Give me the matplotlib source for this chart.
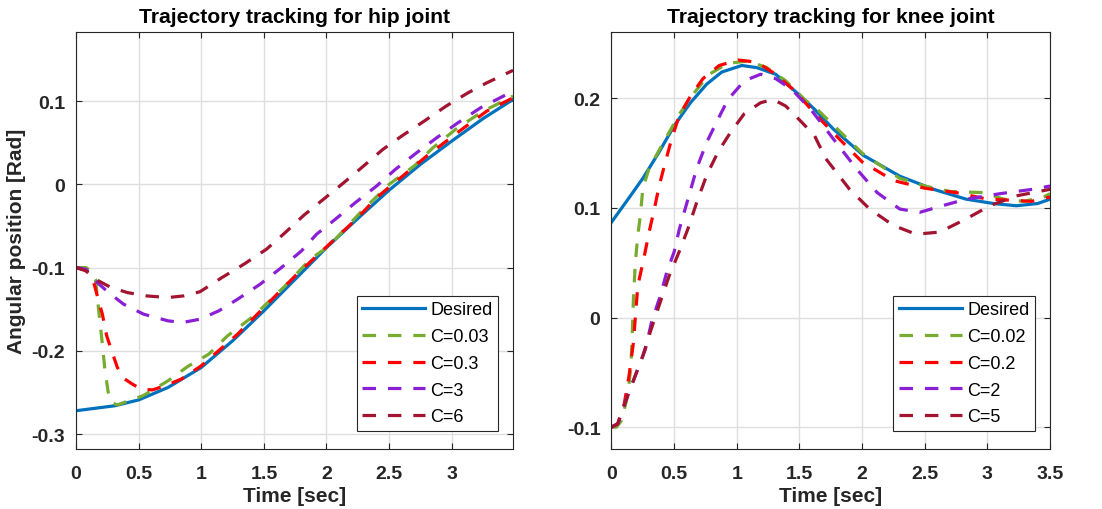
import numpy as np
import matplotlib
matplotlib.use('Agg')
import matplotlib.pyplot as plt

# ---- hip joint ----
hip_t_des = [0, 0.31, 0.5, 0.735, 1.0, 1.25, 1.5, 1.75, 2.0, 2.25, 2.5, 2.75,
             3.0, 3.25, 3.49]
hip_des = [-0.272, -0.266, -0.259, -0.244, -0.220, -0.188, -0.152, -0.114,
           -0.076, -0.041, -0.007, 0.024, 0.052, 0.079, 0.102]

hip_t_c1 = [0, 0.08, 0.12, 0.156, 0.18, 0.206, 0.23, 0.257, 0.28, 0.33, 0.534,
            0.735, 0.89, 1.06, 1.21, 1.42, 1.67, 1.87, 2.02, 2.27, 2.5, 2.7,
            2.85, 3.03, 3.19, 3.28, 3.49]
hip_c1 = [-0.1, -0.1, -0.104, -0.114, -0.15, -0.186, -0.222, -0.25, -0.262,
          -0.265, -0.254, -0.236, -0.219, -0.204, -0.182, -0.158, -0.122,
          -0.09, -0.074, -0.034, 0.0, 0.022, 0.044, 0.066, 0.082, 0.09, 0.106]

hip_t_c2 = [0, 0.08, 0.145, 0.17, 0.21, 0.245, 0.28, 0.33, 0.39, 0.45, 0.52,
            0.61, 0.71, 0.84, 1.0, 1.29, 1.75, 2.25, 2.4, 2.8, 3.08, 3.28, 3.49]
hip_c2 = [-0.1, -0.103, -0.12, -0.134, -0.156, -0.182, -0.198, -0.22, -0.234,
          -0.24, -0.246, -0.247, -0.242, -0.234, -0.218, -0.18, -0.11,
          -0.04, -0.016, 0.034, 0.066, 0.088, 0.104]

hip_t_c3 = [0, 0.08, 0.17, 0.26, 0.38, 0.54, 0.735, 0.85, 0.99, 1.14, 1.29,
            1.47, 1.64, 1.8, 1.92, 2.07, 2.23, 2.4, 2.55, 2.72, 2.88, 3.05,
            3.23, 3.49]
hip_c3 = [-0.1, -0.102, -0.118, -0.13, -0.144, -0.156, -0.164, -0.166, -0.162,
          -0.152, -0.138, -0.12, -0.1, -0.08, -0.06, -0.042, -0.022, -0.002,
          0.018, 0.038, 0.056, 0.074, 0.092, 0.112]

hip_t_c4 = [0, 0.08, 0.18, 0.28, 0.41, 0.56, 0.735, 0.86, 0.99, 1.165, 1.34,
            1.52, 1.67, 1.82, 1.975, 2.13, 2.28, 2.45, 2.6, 2.78, 2.955, 3.13,
            3.28, 3.49]
hip_c4 = [-0.1, -0.104, -0.116, -0.124, -0.13, -0.134, -0.136, -0.134, -0.129,
          -0.112, -0.096, -0.078, -0.058, -0.037, -0.018, 0.001, 0.02, 0.042,
          0.058, 0.076, 0.094, 0.11, 0.122, 0.137]

hip_labels = ['Desired', 'C=0.03', 'C=0.3', 'C=3', 'C=6']

# ---- knee joint ----
knee_t_des = [0, 0.126, 0.25, 0.38, 0.5, 0.63, 0.76, 0.88, 1.04, 1.16, 1.31,
              1.5, 1.62, 1.77, 2.01, 2.3, 2.57, 2.83, 3.05, 3.23, 3.4, 3.5]
knee_des = [0.087, 0.107, 0.127, 0.151, 0.175, 0.196, 0.213, 0.224, 0.23,
            0.228, 0.222, 0.203, 0.19, 0.172, 0.148, 0.129, 0.117, 0.108,
            0.104, 0.102, 0.104, 0.108]

knee_t_c1 = [0, 0.04, 0.08, 0.13, 0.155, 0.165, 0.175, 0.19, 0.21, 0.23, 0.25,
             0.3, 0.43, 0.55, 0.66, 0.78, 0.93, 1.09, 1.24, 1.39, 1.54, 1.65,
             2.0, 2.3, 2.5, 2.7, 2.97, 3.13, 3.29, 3.45, 3.5]
knee_c1 = [-0.1, -0.1, -0.094, -0.071, -0.044, -0.017, 0.017, 0.05, 0.075,
           0.093, 0.118, 0.136, 0.163, 0.187, 0.205, 0.222, 0.232, 0.234,
           0.228, 0.216, 0.199, 0.189, 0.15, 0.127, 0.12, 0.115, 0.114, 0.108,
           0.106, 0.11, 0.113]

knee_t_c2 = [0, 0.05, 0.1, 0.14, 0.175, 0.19, 0.21, 0.26, 0.3, 0.34, 0.38,
             0.43, 0.48, 0.54, 0.63, 0.73, 0.86, 1.01, 1.16, 1.31, 1.46, 1.64,
             1.8, 2.0, 2.25, 2.5, 2.75, 3.0, 3.2, 3.35, 3.5]
knee_c2 = [-0.1, -0.097, -0.08, -0.053, -0.023, 0.0, 0.029, 0.055, 0.078,
           0.098, 0.12, 0.142, 0.163, 0.184, 0.202, 0.218, 0.23, 0.235, 0.233,
           0.222, 0.207, 0.184, 0.165, 0.142, 0.125, 0.118, 0.114, 0.108,
           0.107, 0.106, 0.11]

knee_t_c3 = [0, 0.05, 0.11, 0.2, 0.27, 0.32, 0.39, 0.44, 0.5, 0.54, 0.61, 0.68,
             0.76, 0.85, 0.93, 1.06, 1.19, 1.31, 1.44, 1.59, 1.77, 1.96, 2.12,
             2.3, 2.46, 2.64, 2.83, 3.1, 3.36, 3.5]
knee_c3 = [-0.1, -0.097, -0.077, -0.05, -0.029, -0.004, 0.02, 0.041, 0.06,
           0.08, 0.108, 0.136, 0.16, 0.181, 0.199, 0.216, 0.222, 0.218, 0.208,
           0.19, 0.163, 0.135, 0.114, 0.099, 0.096, 0.102, 0.108, 0.113,
           0.117, 0.12]

knee_t_c4 = [0, 0.05, 0.13, 0.25, 0.31, 0.38, 0.46, 0.54, 0.61, 0.68, 0.76,
             0.85, 0.95, 1.06, 1.19, 1.29, 1.39, 1.52, 1.62, 1.71, 1.9, 2.06,
             2.25, 2.43, 2.62, 2.83, 3.02, 3.23, 3.5]
knee_c4 = [-0.1, -0.097, -0.071, -0.035, -0.013, 0.011, 0.038, 0.06, 0.081,
           0.105, 0.13, 0.151, 0.169, 0.186, 0.196, 0.199, 0.193, 0.178,
           0.166, 0.145, 0.117, 0.099, 0.084, 0.076, 0.078, 0.09, 0.102,
           0.111, 0.117]

knee_labels = ['Desired', 'C=0.02', 'C=0.2', 'C=2', 'C=5']

hip_xticks = [0, 0.5, 1, 1.5, 2, 2.5, 3]
hip_xticklabels = ['0', '0.5', '1', '1.5', '2', '2.5', '3']
hip_yticks = [-0.3, -0.2, -0.1, 0, 0.1]
hip_yticklabels = ['-0.3', '-0.2', '-0.1', '0', '0.1']
knee_xticks = [0, 0.5, 1, 1.5, 2, 2.5, 3, 3.5]
knee_xticklabels = ['0', '0.5', '1', '1.5', '2', '2.5', '3', '3.5']
knee_yticks = [-0.1, 0, 0.1, 0.2]
knee_yticklabels = ['-0.1', '0', '0.1', '0.2']

COLORS = ['#0072BD', '#77AC30', '#FF0000', '#8A1FD6', '#A2142F']
INK = '#262626'

plt.rcParams['font.family'] = ['Liberation Sans', 'DejaVu Sans']
plt.rcParams['lines.scale_dashes'] = False


def draw_panel(ax, series, labels, title, xlim, ylim, xt, xtl, yt, ytl):
    for i, (t, v) in enumerate(series):
        if i == 0:
            ax.plot(t, v, color=COLORS[i], lw=2.3, label=labels[i])
        else:
            ax.plot(t, v, color=COLORS[i], lw=2.3, dashes=(9.7, 8.6),
                    label=labels[i])
    ax.set_xlim(*xlim)
    ax.set_ylim(*ylim)
    ax.set_xticks(xt)
    ax.set_xticklabels(xtl)
    ax.set_yticks(yt)
    ax.set_yticklabels(ytl)
    ax.grid(True, color='#DFDFDF', lw=1.0)
    ax.set_axisbelow(True)
    ax.tick_params(direction='in', top=True, right=True, length=4,
                   width=0.8, color=INK, labelsize=14, labelcolor=INK, pad=8)
    ax.tick_params(axis='x', pad=11.5)
    for lab in ax.get_xticklabels() + ax.get_yticklabels():
        lab.set_fontweight('bold')
    for s in ax.spines.values():
        s.set_color(INK)
        s.set_linewidth(0.8)
    ax.set_title(title, fontsize=15.2, fontweight='bold', color='black', pad=7)
    ax.set_xlabel('Time [sec]', fontsize=15, fontweight='bold', color=INK,
                  labelpad=3)
    leg = ax.legend(loc='lower right', fontsize=13, frameon=True,
                    fancybox=False, edgecolor=INK, framealpha=1,
                    borderaxespad=0, bbox_to_anchor=(0.966, 0.043),
                    handlelength=3.5, handletextpad=0.28, labelspacing=0.54,
                    borderpad=0.31)
    leg.get_frame().set_linewidth(0.8)
    return ax


fig = plt.figure(figsize=(11.02, 5.10), dpi=100)
ax1 = fig.add_axes([0.069, 0.1176, 0.3966, 0.8176])
ax2 = fig.add_axes([0.5549, 0.1176, 0.398, 0.8176])

draw_panel(ax1,
           [(hip_t_des, hip_des), (hip_t_c1, hip_c1), (hip_t_c2, hip_c2),
            (hip_t_c3, hip_c3), (hip_t_c4, hip_c4)],
           hip_labels, 'Trajectory tracking for hip joint',
           (0, 3.49), (-0.318, 0.183),
           hip_xticks, hip_xticklabels, hip_yticks, hip_yticklabels)
ax1.set_ylabel('Angular position [Rad]', fontsize=15, fontweight='bold',
               color=INK, labelpad=4)

draw_panel(ax2,
           [(knee_t_des, knee_des), (knee_t_c1, knee_c1), (knee_t_c2, knee_c2),
            (knee_t_c3, knee_c3), (knee_t_c4, knee_c4)],
           knee_labels, 'Trajectory tracking for knee joint',
           (0, 3.5), (-0.12, 0.2605),
           knee_xticks, knee_xticklabels, knee_yticks, knee_yticklabels)

fig.savefig('out.png', dpi=100)
